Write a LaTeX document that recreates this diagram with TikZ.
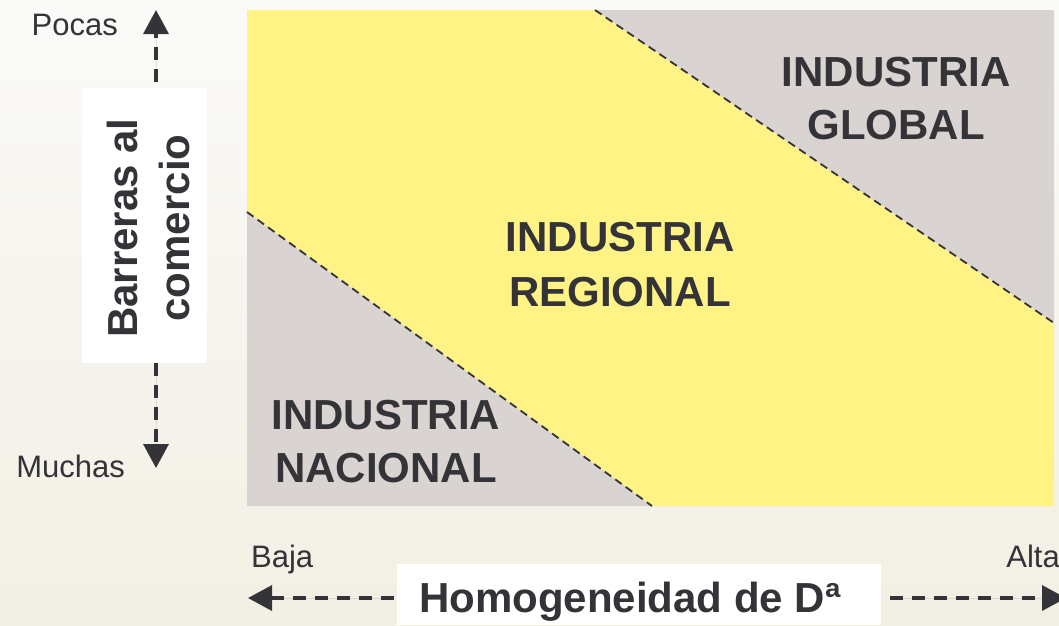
\documentclass[tikz,border=0pt]{standalone}
\usepackage{fontspec}
\setmainfont{Liberation Sans}
\usetikzlibrary{arrows.meta}
\definecolor{ink}{RGB}{51,51,56}
\definecolor{zoneyellow}{RGB}{255,243,133}
\definecolor{zonegray}{RGB}{217,211,209}
\definecolor{bgtop}{RGB}{250,250,248}
\definecolor{bgbot}{RGB}{242,239,228}
\tikzset{
  big/.style={font=\fontsize{42}{53}\selectfont\bfseries, text=ink, align=center, inner sep=0pt},
  small/.style={font=\fontsize{31}{37}\selectfont, text=ink, inner sep=0pt},
  divider/.style={draw=ink, line width=1.8pt, dash pattern=on 8pt off 5pt},
  axis/.style={draw=ink, line width=3.5pt, dash pattern=on 13pt off 9pt, -{Triangle[width=25pt,length=24pt]}, fill=ink}
}
\begin{document}
\begin{tikzpicture}[x=1pt,y=-1pt]
\useasboundingbox (0,0) rectangle (1059,625);
% background
\shade[top color=bgtop, bottom color=bgbot] (0,0) rectangle (1059,625);
% zones
\fill[zoneyellow] (247,10) -- (595,10) -- (1054,323) -- (1054,506) -- (652,506) -- (247,212) -- cycle;
\fill[zonegray] (595,10) -- (1054,10) -- (1054,323) -- cycle;
\fill[zonegray] (247,212) -- (652,506) -- (247,506) -- cycle;
\coordinate (d1a) at (595,10);
\coordinate (d1b) at (1054,323);
\coordinate (d2a) at (247,212);
\coordinate (d2b) at (652,506);
\draw[divider] (d1a) -- (d1b);
\draw[divider] (d2a) -- (d2b);
% zone labels
\node[big] (global) at (896,99) {INDUSTRIA\\GLOBAL};
\node[big, font=\fontsize{42}{55}\selectfont\bfseries] (regional) at (620,265) {INDUSTRIA\\REGIONAL};
\node[big] (nacional) at (386,441.5) {INDUSTRIA\\NACIONAL};
% vertical axis
\fill[white] (82,88) rectangle (207,363);
\node[big, font=\fontsize{42}{52}\selectfont\bfseries, rotate=90] (vlabel) at (148,228) {Barreras al\\comercio};
\coordinate (vtopstart) at (156,82);
\coordinate (vtoptip) at (156,10);
\coordinate (vbotstart) at (156,363);
\coordinate (vbottip) at (156,468);
\draw[axis] (vtopstart) -- (vtoptip);
\draw[axis] (vbotstart) -- (vbottip);
\node[small, anchor=base east] (pocas) at (118,35) {Pocas};
\node[small, anchor=base east] (muchas) at (125,477) {Muchas};
% horizontal axis
\fill[white] (397,564) rectangle (881,625);
\node[font=\fontsize{42}{50}\selectfont\bfseries, text=ink, inner sep=0pt, anchor=base] (hlabel) at (630,612) {Homogeneidad de Dª};
\coordinate (hleftstart) at (394,598);
\coordinate (hlefttip) at (248,598);
\coordinate (hrightstart) at (890,598);
\coordinate (hrighttip) at (1066,598);
\draw[axis] (hleftstart) -- (hlefttip);
\draw[axis] (hrightstart) -- (hrighttip);
\node[small, anchor=base west] (baja) at (251,567) {Baja};
\node[small, anchor=base east] (alta) at (1060,567) {Alta};
\end{tikzpicture}
\end{document}
